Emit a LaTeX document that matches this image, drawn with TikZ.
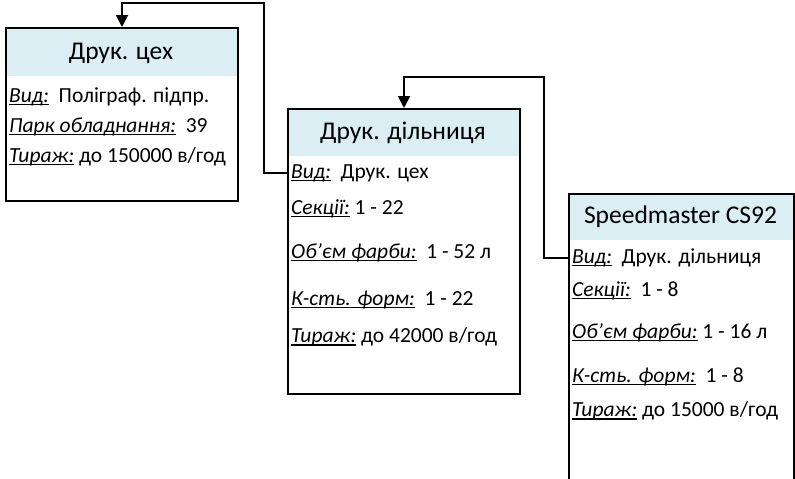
\documentclass[tikz,border=0pt]{standalone}
\usepackage{fontspec}
\setmainfont{Carlito}
\usetikzlibrary{arrows.meta,calc}
\definecolor{headblue}{RGB}{218,238,243}
\newcommand\lbl[1]{\setbox0\hbox{\itshape #1}\rlap{\rule[-0.13em]{\wd0}{0.055em}}\box0}
\tikzset{
  card/.style={draw=black, line width=2pt, anchor=north west, inner sep=0pt},
  cardtitle/.style={font=\fontsize{25.5}{28}\selectfont, inner sep=0pt},
  row/.style={font=\fontsize{21.5}{24}\selectfont, anchor=west, inner sep=0pt},
  conn/.style={draw=black, line width=2pt, -{Triangle[width=12pt,length=12pt]}}
}
\begin{document}
\begin{tikzpicture}[x=1pt,y=-1pt]
\useasboundingbox (0,0) rectangle (795,479);
\clip (0,0) rectangle (795,479);
% box 1
\fill[headblue] (5,27) rectangle (237,76);
\node[card, minimum width=232pt, minimum height=173pt] (b1) at (5,27) {};
\node[cardtitle] (t1) at (121,53) {Друк. цех};
\node[row] (v1) at (9,97) {\lbl{Вид:}\ \ Поліграф. підпр.};
\node[row] (p1) at (9,127) {\lbl{Парк обладнання:}\ \ 39};
\node[row] (r1) at (9,157) {\lbl{Тираж:}\ до 150000 в/год};
% box 2
\fill[headblue] (287,108) rectangle (519,156);
\node[card, minimum width=232pt, minimum height=285pt] (b2) at (287,108) {};
\node[cardtitle] (t2) at (403,133) {Друк. дільниця};
\node[row] (v2) at (291,173) {\lbl{Вид:}\ \ Друк. цех};
\node[row] (s2) at (291,209) {\lbl{Секції:}\ 1 - 22};
\node[row] (o2) at (291,253) {\lbl{Об’єм фарби:}\ \ 1 - 52 л};
\node[row] (k2) at (291,300) {\lbl{К-сть. форм:}\ \ 1 - 22};
\node[row] (r2) at (291,337) {\lbl{Тираж:}\ до 42000 в/год};
% box 3
\fill[headblue] (568,193) rectangle (793,240);
\node[card, minimum width=225pt, minimum height=286pt] (b3) at (568,193) {};
\node[cardtitle] (t3) at (680.5,217) {Speedmaster CS92};
\node[row] (v3) at (572,258) {\lbl{Вид:}\ \ Друк. дільниця};
\node[row] (s3) at (572,291) {\lbl{Секції:}\ \ 1 - 8};
\node[row] (o3) at (572,333) {\lbl{Об’єм фарби:}\ 1 - 16 л};
\node[row] (k3) at (572,377) {\lbl{К-сть. форм:}\ \ 1 - 8};
\node[row] (r3) at (572,411) {\lbl{Тираж:}\ до 15000 в/год};
% connectors
\draw[conn] (v2.west -| b2.west) -- ++(-23,0) |- ([yshift=24pt]b1.north) -- (b1.north);
\draw[conn] (v3.west -| b3.west) -- ++(-24,0) |- ([yshift=31pt]b2.north) -- (b2.north);
\end{tikzpicture}
\end{document}
